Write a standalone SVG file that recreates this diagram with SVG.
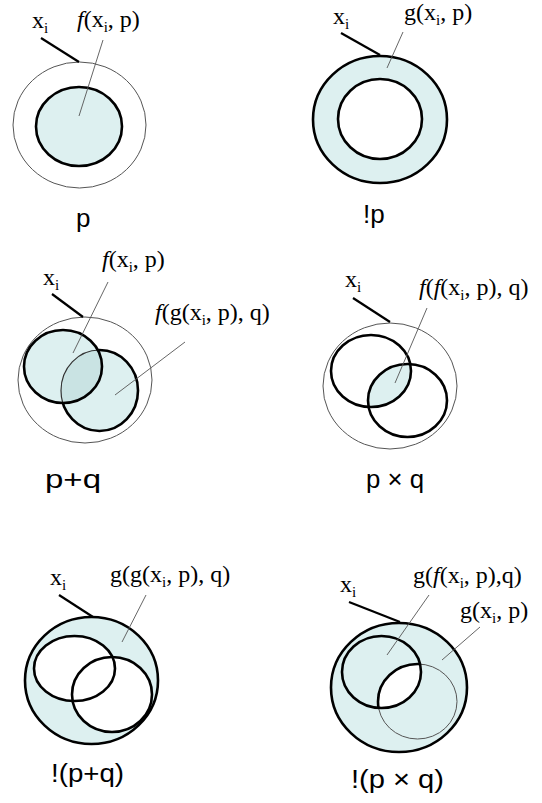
<svg xmlns="http://www.w3.org/2000/svg" width="542" height="803" viewBox="0 0 542 803">
<style>
.thin{fill:none;stroke:#555;stroke-width:1}
.thick{fill:none;stroke:#000;stroke-width:2.6}
.cy{fill:#ddf0f0}
.wh{fill:#fff}
.ov{fill:#c9e3e3}
.ptr{stroke:#000;stroke-width:2.2;fill:none}
.lead{stroke:#555;stroke-width:0.9;fill:none}
.ser{font-family:"Liberation Serif","Times New Roman",serif;font-size:24px;fill:#000}
.sub{font-size:15px}
.it{font-style:italic}
.lab{font-family:"Liberation Sans",Arial,sans-serif;font-size:26px;fill:#000}
</style>
<defs>
<clipPath id="cA3"><ellipse cx="63" cy="366.5" rx="39" ry="36.5"/></clipPath>
<clipPath id="cA4"><ellipse cx="371" cy="371" rx="40" ry="36"/></clipPath>
<clipPath id="cA6"><ellipse cx="381.5" cy="672" rx="39.5" ry="36"/></clipPath>
</defs>
<rect width="542" height="803" fill="#fff"/>

<g id="panel-p">
<ellipse cx="79.5" cy="125" rx="66.5" ry="63" class="thin"/>
<ellipse cx="79" cy="126.5" rx="43" ry="39.5" class="cy"/>
<ellipse cx="79" cy="126.5" rx="43" ry="39.5" class="thick"/>
<text class="ser" x="32" y="28">x<tspan class="sub" dy="5">i</tspan></text>
<text class="ser" x="77" y="27"><tspan class="it">f</tspan>(x<tspan class="sub" dy="5">i</tspan><tspan dy="-5">, p)</tspan></text>
<text class="lab" x="76" y="227">p</text>
</g>

<g id="panel-not-p">
<ellipse cx="380" cy="119.5" rx="67" ry="63.5" class="cy"/>
<ellipse cx="380" cy="119" rx="42" ry="40" class="wh"/>
<ellipse cx="380" cy="119.5" rx="67" ry="63.5" class="thick"/>
<ellipse cx="380" cy="119" rx="42" ry="40" class="thick"/>
<text class="ser" x="333" y="24">x<tspan class="sub" dy="5">i</tspan></text>
<text class="ser" x="404" y="20">g(x<tspan class="sub" dy="5">i</tspan><tspan dy="-5">, p)</tspan></text>
<text class="lab" x="363" y="223">!p</text>
</g>

<g id="panel-p-plus-q">
<ellipse cx="85" cy="380" rx="67" ry="63" class="thin"/>
<ellipse cx="99.5" cy="390.5" rx="38.5" ry="40.5" class="cy"/>
<ellipse cx="99.5" cy="390.5" rx="38.5" ry="40.5" class="thick"/>
<ellipse cx="63" cy="366.5" rx="39" ry="36.5" class="cy"/>
<ellipse cx="99.5" cy="390.5" rx="38.5" ry="40.5" class="ov" clip-path="url(#cA3)"/>
<ellipse cx="99.5" cy="390.5" rx="38.5" ry="40.5" fill="none" stroke="#333" stroke-width="1.2" clip-path="url(#cA3)"/>
<ellipse cx="63" cy="366.5" rx="39" ry="36.5" class="thick"/>
<text class="ser" x="43" y="285">x<tspan class="sub" dy="5">i</tspan></text>
<text class="ser" x="102" y="267"><tspan class="it">f</tspan>(x<tspan class="sub" dy="5">i</tspan><tspan dy="-5">, p)</tspan></text>
<text class="ser" x="155" y="320"><tspan class="it">f</tspan>(g(x<tspan class="sub" dy="5">i</tspan><tspan dy="-5">, p), q)</tspan></text>
<text class="lab" x="45" y="488" textLength="56" lengthAdjust="spacingAndGlyphs">p+q</text>
</g>

<g id="panel-p-times-q">
<ellipse cx="390" cy="386" rx="67" ry="63" class="thin"/>
<ellipse cx="407.5" cy="400.5" rx="39.5" ry="36.5" class="cy" clip-path="url(#cA4)"/>
<ellipse cx="371" cy="371" rx="40" ry="36" class="thick"/>
<ellipse cx="407.5" cy="400.5" rx="39.5" ry="36.5" class="thick"/>
<text class="ser" x="345" y="287">x<tspan class="sub" dy="5">i</tspan></text>
<text class="ser" x="419" y="295"><tspan class="it">f</tspan>(<tspan class="it">f</tspan>(x<tspan class="sub" dy="5">i</tspan><tspan dy="-5">, p), q)</tspan></text>
<text class="lab" x="366" y="488" textLength="58" lengthAdjust="spacingAndGlyphs">p × q</text>
</g>

<g id="panel-not-p-plus-q">
<ellipse cx="91.5" cy="680.5" rx="66.5" ry="63.5" class="cy"/>
<ellipse cx="74.5" cy="668.5" rx="40.5" ry="32.5" class="wh"/>
<ellipse cx="112" cy="694.5" rx="40" ry="37.5" class="wh"/>
<ellipse cx="91.5" cy="680.5" rx="66.5" ry="63.5" class="thick"/>
<ellipse cx="74.5" cy="668.5" rx="40.5" ry="32.5" class="thick"/>
<ellipse cx="112" cy="694.5" rx="40" ry="37.5" class="thick"/>
<text class="ser" x="50" y="585">x<tspan class="sub" dy="5">i</tspan></text>
<text class="ser" x="110" y="582">g(g(x<tspan class="sub" dy="5">i</tspan><tspan dy="-5">, p), q)</tspan></text>
<text class="lab" x="51" y="782" textLength="73" lengthAdjust="spacingAndGlyphs">!(p+q)</text>
</g>

<g id="panel-not-p-times-q">
<ellipse cx="399" cy="687.5" rx="68" ry="64.5" class="cy"/>
<ellipse cx="417.5" cy="701.5" rx="39.5" ry="37.5" class="thin"/>
<ellipse cx="417.5" cy="701.5" rx="39.5" ry="37.5" class="wh" clip-path="url(#cA6)"/>
<ellipse cx="417.5" cy="701.5" rx="39.5" ry="37.5" class="thick" clip-path="url(#cA6)"/>
<ellipse cx="381.5" cy="672" rx="39.5" ry="36" class="thick"/>
<ellipse cx="399" cy="687.5" rx="68" ry="64.5" class="thick"/>
<text class="ser" x="340" y="592">x<tspan class="sub" dy="5">i</tspan></text>
<text class="ser" x="413" y="583">g(<tspan class="it">f</tspan>(x<tspan class="sub" dy="5">i</tspan><tspan dy="-5">, p),q)</tspan></text>
<text class="ser" x="460" y="618">g(x<tspan class="sub" dy="5">i</tspan><tspan dy="-5">, p)</tspan></text>
<text class="lab" x="351" y="788" textLength="93" lengthAdjust="spacingAndGlyphs">!(p × q)</text>
</g>

<g id="connectors">
<line class="ptr" x1="41" y1="38" x2="79" y2="62"/>
<line class="lead" x1="103" y1="40" x2="79" y2="116"/>
<line class="ptr" x1="341" y1="33" x2="380" y2="55"/>
<line class="lead" x1="403" y1="32" x2="387" y2="68"/>
<line class="ptr" x1="52" y1="294" x2="83" y2="317"/>
<line class="lead" x1="108" y1="282" x2="73" y2="353"/>
<line class="lead" x1="185" y1="342" x2="115" y2="395"/>
<line class="ptr" x1="353" y1="298" x2="390" y2="322"/>
<line class="lead" x1="427" y1="308" x2="395" y2="383"/>
<line class="ptr" x1="59" y1="595" x2="93" y2="617"/>
<line class="lead" x1="146" y1="595" x2="122" y2="642"/>
<line class="ptr" x1="349" y1="602" x2="400" y2="622"/>
<line class="lead" x1="429" y1="595" x2="387" y2="655"/>
<line class="lead" x1="480" y1="627" x2="442" y2="660"/>
</g>
</svg>
